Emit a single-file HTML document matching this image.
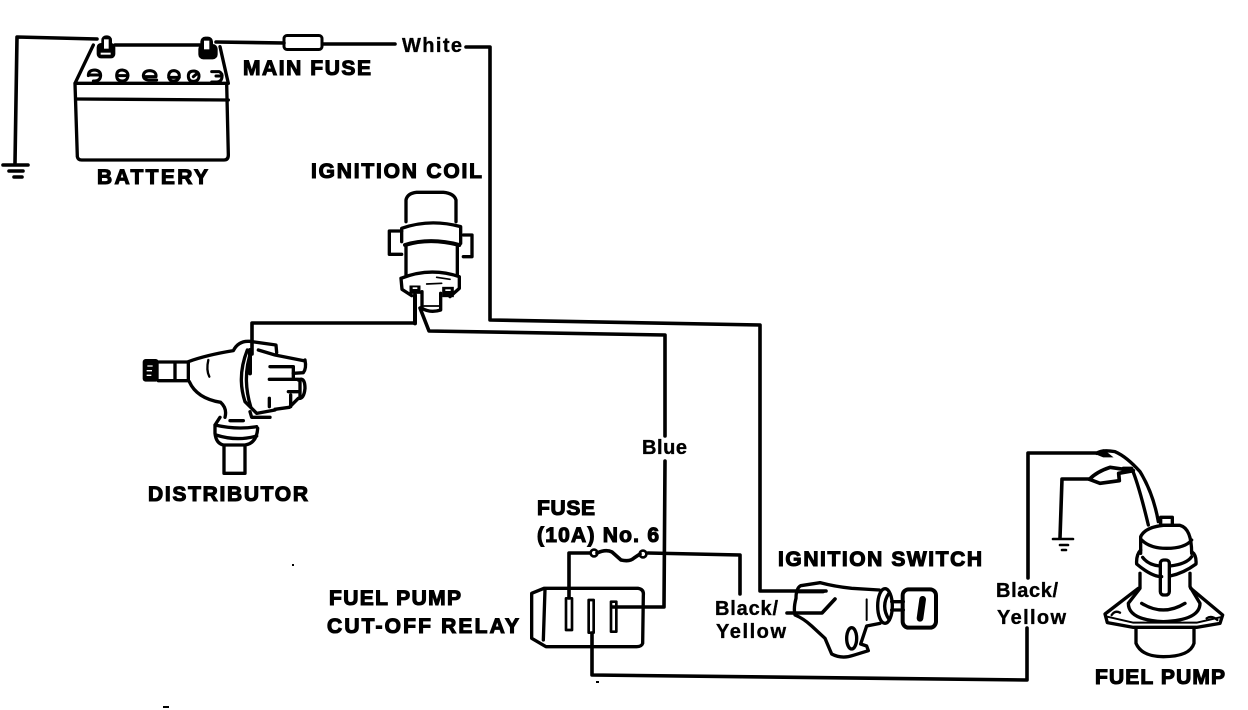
<!DOCTYPE html>
<html><head><meta charset="utf-8"><style>
html,body{margin:0;padding:0;background:#fff;width:1248px;height:710px;overflow:hidden}
svg{display:block}
.w{fill:none;stroke:#000;stroke-width:3.6;stroke-linejoin:round;stroke-linecap:round}
.s{fill:none;stroke:#000;stroke-width:10;stroke-linejoin:round;stroke-linecap:round}
.b{fill:#000;stroke:#000;stroke-width:4}
text{font-family:"Liberation Sans",sans-serif;font-weight:bold;fill:#000}
.h{font-size:21px;stroke:#000;stroke-width:1.1px}
.l{font-size:20px;stroke:#000;stroke-width:.35px}
</style></head><body>
<svg width="1248" height="710" viewBox="0 0 1248 710" xmlns="http://www.w3.org/2000/svg">
<rect width="1248" height="710" fill="#fff"/>

<!-- wires -->
<path class="w" d="M97 39L17 37L15 163"/>
<path class="w" d="M115 45H200"/>
<path class="w" d="M216 42L284 43"/>
<path class="w" d="M323 44H395"/>
<path class="w" d="M466 47H490V320L760 325V591H826"/>
<path class="w" d="M252 354L252 323H415V298" />
<path class="w" d="M420 308L429 331L665 335V436"/>
<path class="w" d="M665 461L664 607H612"/>
<path class="w" d="M569 598V553H590"/>
<path class="w" d="M648 553L740 555V594"/>
<path class="w" d="M592 633V675L1027 680V628"/>
<path class="w" d="M1028 578V453H1097"/>
<path class="w" d="M1090 479H1062L1060 538"/>
<path class="w" d="M787 613H822L835 599"/>

<!-- grounds -->
<path class="w" d="M3 165H28M9 171H23"/>
<path class="w" d="M14 177H22"/>
<path class="w" style="stroke-width:2.6" d="M1053 539H1073M1060 545H1068M1062 550H1066"/>

<!-- battery -->
<g transform="translate(0,20) scale(.33333)">
<path class="s" d="M225 190L280 75M660 80L685 190M225 190L232 410Q234 420 245 420H672Q685 420 685 405L680 190M225 190H685"/>
<path class="s" d="M230 237L685 240"/>
<rect x="293" y="72" width="50" height="40" rx="10" class="b" style="stroke-width:6"/>
<rect x="306" y="48" width="28" height="45" rx="12" class="b"/>
<rect x="312" y="58" width="14" height="28" fill="#fff"/>
<rect x="302" y="98" width="30" height="6" fill="#fff"/>
<rect x="598" y="75" width="52" height="40" rx="12" class="b" style="stroke-width:6"/>
<rect x="603" y="52" width="34" height="40" rx="13" class="b"/>
<rect x="612" y="62" width="16" height="26" fill="#fff"/>
<path class="s" style="stroke-width:9" d="M265 167Q265 150 285 150Q302 152 302 167Q300 185 280 183M265 165H300"/>
<path class="s" style="stroke-width:9" d="M350 167Q350 150 367 150Q384 152 384 167Q382 183 367 183Q350 183 350 167ZM350 167H384"/>
<path class="s" style="stroke-width:9" d="M470 180H445Q430 178 430 166Q432 152 450 152Q470 154 468 170H432"/>
<path class="s" style="stroke-width:9" d="M506 166Q508 152 522 152Q538 154 538 168Q536 183 520 183Q506 183 506 166ZM506 172H538"/>
<path class="s" style="stroke-width:9" d="M565 168Q565 153 582 153Q598 155 597 170Q595 184 580 184Q565 184 565 168ZM580 170L592 160"/>
<path class="s" style="stroke-width:9" d="M635 155H658Q668 160 666 172Q664 186 650 186H635M648 168H664"/>
</g>

<!-- main fuse -->
<rect x="284" y="35.500" width="38" height="14" rx="3" class="w" style="stroke-width:3"/>

<!-- ignition coil -->
<g transform="translate(300,150) scale(.33333)">
<path class="s" d="M318 215V150Q322 130 350 127H430Q462 130 468 150V215"/>
<path class="s" d="M305 275V235Q390 205 482 230V280"/>
<path class="s" style="stroke-width:12" d="M315 285Q390 262 478 285"/>
<path class="s" d="M318 285V375M472 285V375"/>
<path class="s" d="M268 243H305M268 243V313H305"/>
<path class="s" d="M490 255H516V320H490"/>
<path class="s" d="M303 385Q390 350 478 380V415L450 440M303 385L306 418L335 437"/>
<path class="s" style="stroke-width:5" d="M380 402L425 400M410 382L450 388"/>
<rect x="330" y="408" width="30" height="22" class="b" style="stroke-width:3"/>
<rect x="338" y="412" width="14" height="5" fill="#fff"/>
<rect x="428" y="412" width="32" height="28" class="b" style="stroke-width:3"/>
<rect x="436" y="418" width="16" height="5" fill="#fff"/>
<path class="s" d="M366 425V475Q390 490 422 480V430"/>
<path class="s" style="stroke-width:5" d="M372 468H418"/>
<path class="s" style="stroke-width:12" d="M345 435V520"/>
</g>

<!-- distributor -->
<g transform="translate(130,180) scale(.33333)">
<rect x="38" y="537" width="48" height="68" rx="9" fill="#000"/>
<path stroke="#fff" stroke-width="4" fill="none" d="M52 558H68M50 572H66M50 586H64"/>
<path class="s" d="M85 546H175V602H85M135 546V602"/>
<path class="s" d="M175 545Q230 525 310 512Q325 482 358 484L438 495L440 518"/>
<path class="s" d="M178 605Q200 655 272 667Q292 685 285 712"/>
<path class="s" style="stroke-width:7" d="M235 540Q228 570 238 590"/>
<path class="s" d="M352 510Q320 590 345 665L380 700L435 690"/>
<path class="s" d="M365 510Q335 590 362 680"/>
<path class="s" d="M385 510L435 525L520 542M525 540Q530 565 520 578L490 580"/>
<path class="s" d="M490 560V592M420 560H490"/>
<path class="s" d="M418 598H505M505 600Q525 590 525 625Q522 658 505 655L478 682L435 688"/>
<path class="s" d="M510 600V655M475 635H510M482 645V680M418 655V680"/>
<path class="s" style="stroke-width:12" d="M360 580V510"/>
<path class="s" d="M360 695L365 712H420"/>
<path class="s" d="M270 712L255 735Q320 750 380 740M255 735V760Q258 790 280 795H345Q380 790 383 745"/>
<path class="s" d="M258 765Q320 785 380 768M300 722H340"/>
<path class="s" d="M282 800V880H345V800"/>
</g>

<!-- relay -->
<g transform="translate(520,490) scale(.33333)">
<path class="s" d="M35 310L72 295H355Q372 298 370 315L368 460Q365 470 350 470H78L35 445Z"/>
<path class="s" d="M75 298L70 450"/>
<rect x="138" y="325" width="18" height="95" class="w" style="stroke-width:8"/>
<rect x="206" y="330" width="15" height="98" class="w" style="stroke-width:8"/>
<rect x="273" y="335" width="16" height="90" class="w" style="stroke-width:8"/>
</g>

<!-- inline fuse -->
<circle cx="594" cy="553" r="3.4" fill="#fff" stroke="#000" stroke-width="2.6"/>
<circle cx="643" cy="554" r="3.4" fill="#fff" stroke="#000" stroke-width="2.6"/>
<path class="w" d="M597 553Q606 549 612 552L621 560Q630 562 634 558L640 554"/>

<!-- ignition switch -->
<g transform="translate(770,540) scale(.33333)">
<path class="s" d="M150 128L92 137Q78 145 78 175Q70 205 75 225Q100 235 125 258L165 295L185 342Q215 358 250 346L295 332L290 318L272 312L290 258L330 250"/>
<path class="s" d="M150 128Q195 140 245 145L328 150"/>
<path class="s" d="M160 155H80"/>
<ellipse cx="345" cy="198" rx="22" ry="52" class="s"/>
<path class="s" d="M358 158Q330 198 358 240"/>
<path class="s" style="stroke-width:6" d="M290 178V240"/>
<path class="s" d="M365 185H400M365 210H400"/>
<rect x="398" y="148" width="100" height="115" rx="18" class="s" style="stroke-width:12"/>
<path class="s" style="stroke-width:20" d="M458 178L450 235"/>
<ellipse cx="245" cy="295" rx="15" ry="32" class="s"/>
</g>

<!-- fuel pump -->
<g transform="translate(1020,440) scale(.33333)">
<path class="s" d="M230 40Q245 28 285 35Q320 50 360 95Q400 160 415 245"/>
<path class="s" d="M310 85H335Q355 130 385 255"/>
<path class="b" d="M225 40L250 30L275 50L250 50Z"/>
<path class="s" style="stroke-width:11" d="M208 118Q230 95 270 82L340 92L296 100L298 122L240 130Z"/>
<rect x="422" y="232" width="35" height="24" class="s"/>
<path class="s" d="M362 340V290Q375 262 430 256H480Q515 265 515 340"/>
<path class="s" d="M365 300Q390 325 440 325Q495 325 515 300"/>
<path class="s" d="M362 330Q348 345 350 372Q395 410 425 410M515 335Q530 345 528 372Q490 400 450 408"/>
<path class="s" d="M368 352Q385 375 420 378M450 378Q500 372 515 350"/>
<path class="s" d="M360 400V445L325 490Q325 540 430 545Q540 540 540 490L510 440V400"/>
<path class="s" d="M365 490Q430 530 495 490"/>
<rect x="421" y="360" width="27" height="105" rx="10" class="s"/>
<path class="s" d="M355 445L255 522L262 548L340 562H530L600 550L608 525L512 445"/>
<path class="s" style="stroke-width:6" d="M262 530L340 548H530L600 532"/>
<path class="s" style="stroke-width:7" d="M275 525Q285 510 300 518M560 535Q575 525 592 540"/>
<path class="s" d="M348 565V610Q365 650 430 650Q510 650 522 610V565"/>
</g>

<!-- specks -->
<rect x="163" y="706" width="6" height="2" fill="#000"/>
<rect x="596" y="681" width="3" height="2" fill="#000"/>
<rect x="292" y="564" width="2" height="2" fill="#000"/>

<!-- labels -->
<text class="h" x="243" y="75" textLength="128">MAIN FUSE</text>
<text class="h" x="97" y="184" textLength="111">BATTERY</text>
<text class="h" x="311" y="178" textLength="171">IGNITION COIL</text>
<text class="h" x="148" y="501" textLength="160">DISTRIBUTOR</text>
<text class="l" x="402" y="52" textLength="60">White</text>
<text class="l" x="642" y="454" textLength="45">Blue</text>
<text class="h" x="537" y="515" textLength="58">FUSE</text>
<text class="h" x="537" y="542" textLength="122">(10A) No. 6</text>
<text class="h" x="329" y="605" textLength="132">FUEL PUMP</text>
<text class="h" x="327" y="633" textLength="192">CUT-OFF RELAY</text>
<text class="l" x="715" y="615" textLength="63">Black/</text>
<text class="l" x="716" y="638" textLength="70">Yellow</text>
<text class="h" x="778" y="566" textLength="204">IGNITION SWITCH</text>
<text class="l" x="996" y="597" textLength="62">Black/</text>
<text class="l" x="997" y="624" textLength="69">Yellow</text>
<text class="h" x="1095" y="684" textLength="130">FUEL PUMP</text>
</svg>
</body></html>
